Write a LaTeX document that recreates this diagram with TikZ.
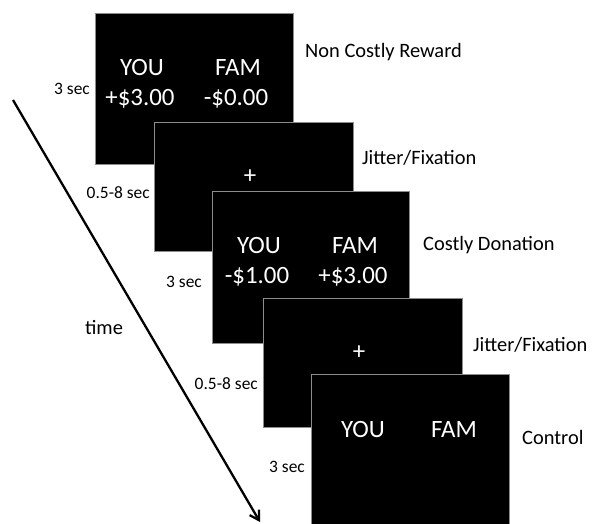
\documentclass[tikz,border=0pt]{standalone}
\usepackage{fontspec}
\setmainfont{Carlito}
\usetikzlibrary{calc, positioning}
\usetikzlibrary{arrows.meta}

\begin{document}
\begin{tikzpicture}[x=1bp,y=-1bp]
\colorlet{edgegray}{black!45}
\tikzset{
    screen/.style={fill=black,draw=edgegray,line width=0.9bp},
    stim/.style={text=white,inner sep=0pt,font=\fontsize{25}{29}\selectfont},
    condlabel/.style={anchor=west,inner sep=0pt,font=\fontsize{20.5}{24}\selectfont},
    durlabel/.style={anchor=east,inner sep=0pt,font=\fontsize{17.5}{21}\selectfont}
}
\useasboundingbox (0,0) rectangle (593,524);

% top left corners of the five screens
\coordinate (S1) at (95,13);
\coordinate (S2) at (154,122);
\coordinate (S3) at (212,191);
\coordinate (S4) at (263,298);
\coordinate (S5) at (311,374);

\fill[screen] (S1) rectangle ++(198,151);
\fill[screen] (S2) rectangle ++(199,129);
\fill[screen] (S3) rectangle ++(197,152);
\fill[screen] (S4) rectangle ++(199,129);
\fill[screen] (S5) rectangle ++(198,153);

% screen texts
\foreach \s/\l/\r in {1/{+\$3.00}/{-\$0.00},3/{-\$1.00}/{+\$3.00}} {
    \node[stim] (you\s) at ($(S\s)+(47,55)$) {YOU};
    \node[stim] (fam\s) at ($(S\s)+(143,55)$) {FAM};
    \node[stim] (gainyou\s) at ($(S\s)+(45,86)$) {\l};
    \node[stim] (gainfam\s) at ($(S\s)+(141,86)$) {\r};
}
\node[stim] (you5) at ($(S5)+(52,56)$) {YOU};
\node[stim] (fam5) at ($(S5)+(143,56)$) {FAM};
\foreach \s in {2,4} {
    \node[stim] (fix\s) at ($(S\s)+(96,55)$) {+};
}

% condition names
\node[condlabel] (cond1) at (305,52) {Non Costly Reward};
\node[condlabel] (cond2) at (362,158) {Jitter/Fixation};
\node[condlabel] (cond3) at (423,245) {Costly Donation};
\node[condlabel] (cond4) at (473,345) {Jitter/Fixation};
\node[condlabel] (cond5) at (522,437) {Control};

% durations
\node[durlabel] (dur1) at (90,89) {3 sec};
\node[durlabel] (dur2) at (150,193) {0.5-8 sec};
\node[durlabel] (dur3) at (202,282) {3 sec};
\node[durlabel] (dur4) at (258,384) {0.5-8 sec};
\node[durlabel] (dur5) at (305,467) {3 sec};

% time axis
\coordinate (tstart) at (13,100);
\coordinate (tend) at (260,522);
\draw[line width=2.3bp,-{Straight Barb[length=9bp,width=11bp]}] (tstart) -- (tend);
\node[inner sep=0pt,font=\fontsize{20.5}{24}\selectfont] (time) at (104,328) {time};
\end{tikzpicture}
\end{document}
